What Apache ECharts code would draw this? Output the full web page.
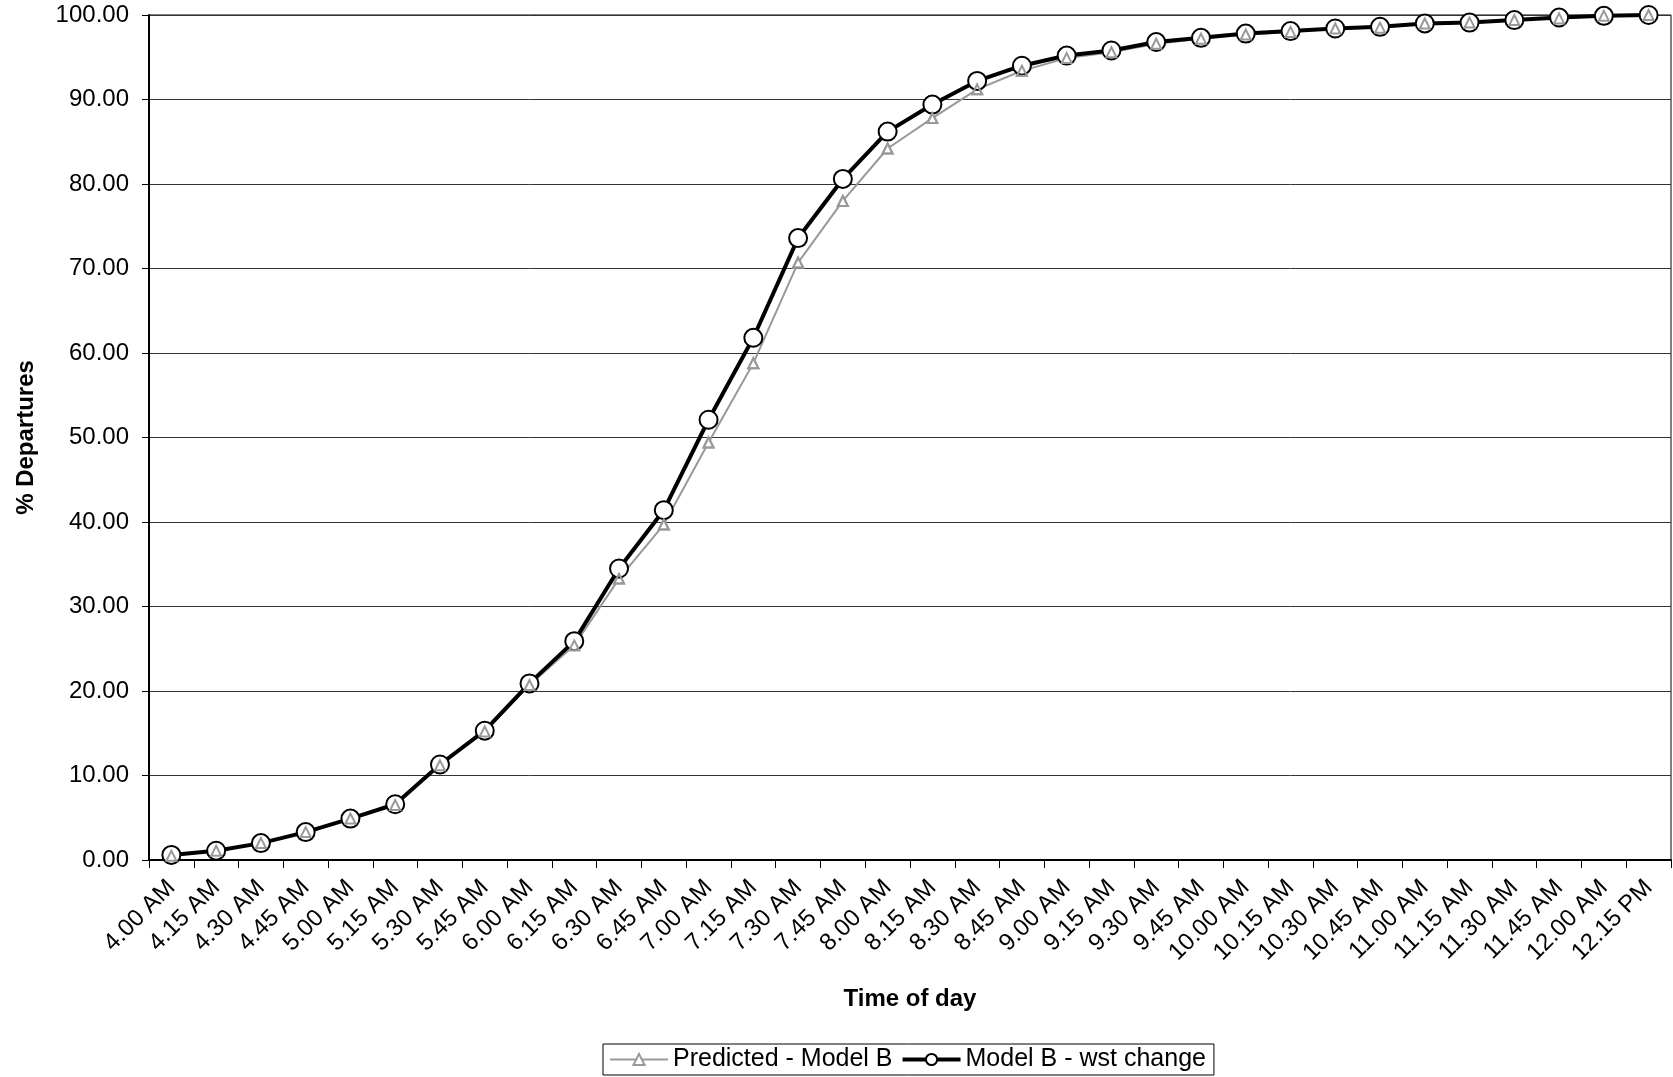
<!DOCTYPE html>
<html>
<head>
<meta charset="utf-8">
<script src="https://cdn.jsdelivr.net/npm/echarts@6/dist/echarts.min.js"></script>
<style>
html,body{margin:0;padding:0;background:#fff;}
#chart{width:1673px;height:1077px;}
</style>
</head>
<body>
<div id="chart"></div>
<script>
const categories = ["4.00 AM","4.15 AM","4.30 AM","4.45 AM","5.00 AM","5.15 AM","5.30 AM","5.45 AM",
  "6.00 AM","6.15 AM","6.30 AM","6.45 AM","7.00 AM","7.15 AM","7.30 AM","7.45 AM",
  "8.00 AM","8.15 AM","8.30 AM","8.45 AM","9.00 AM","9.15 AM","9.30 AM","9.45 AM",
  "10.00 AM","10.15 AM","10.30 AM","10.45 AM","11.00 AM","11.15 AM","11.30 AM","11.45 AM",
  "12.00 AM","12.15 PM"];
const predictedModelB = [0.5,1.1,2.0,3.3,4.9,6.5,11.2,15.2,20.7,25.4,33.3,39.7,49.4,58.8,70.7,78.0,
  84.2,87.8,91.2,93.4,94.9,95.6,96.6,97.2,97.7,98.0,98.4,98.5,99.0,99.1,99.4,99.6,99.9,100.0];
const modelBWstChange = [0.6,1.1,2.0,3.3,4.9,6.6,11.3,15.3,20.9,25.9,34.5,41.4,52.1,61.8,73.6,80.6,
  86.2,89.4,92.2,94.0,95.2,95.8,96.8,97.3,97.8,98.1,98.4,98.6,99.0,99.1,99.4,99.7,99.9,100.0];
const seriesNames = ["Predicted - Model B","Model B - wst change"];

const FONT = "'Liberation Sans', Arial, sans-serif";
const chart = echarts.init(document.getElementById('chart'));
chart.setOption({
  animation:false,
  backgroundColor:'#fff',
  grid:{left:149,right:2,top:15,bottom:217,show:true,borderColor:'#000',borderWidth:1},
  legend:{
    data:[
      {name:seriesNames[0],lineStyle:{width:2,color:'#999'}},
      {name:seriesNames[1],lineStyle:{width:4,color:'#000'}}
    ],
    bottom:2,left:603,
    orient:'horizontal',
    borderColor:'#000',borderWidth:1,
    padding:[3,8,3,6],
    itemGap:8,itemWidth:58,itemHeight:14,
    textStyle:{fontFamily:FONT,fontSize:25,color:'#000'}
  },
  xAxis:{
    type:'category',
    data:categories,
    boundaryGap:true,
    name:'Time of day',
    nameLocation:'middle',
    nameGap:127,
    nameTextStyle:{fontFamily:FONT,fontSize:24,fontWeight:'bold',color:'#000'},
    axisLine:{lineStyle:{color:'#000',width:2}},
    axisTick:{show:true,length:8,lineStyle:{color:'#000',width:1},alignWithLabel:false},
    axisLabel:{interval:0,rotate:45,margin:24,fontFamily:FONT,fontSize:24,color:'#000'},
    splitLine:{show:false}
  },
  yAxis:{
    type:'value',
    min:0,max:100,interval:10,
    name:'% Departures',
    nameLocation:'middle',
    nameGap:111,
    nameTextStyle:{fontFamily:FONT,fontSize:24,fontWeight:'bold',color:'#000'},
    axisLine:{show:true,lineStyle:{color:'#000',width:2}},
    axisTick:{show:true,length:7,lineStyle:{color:'#000'}},
    axisLabel:{margin:20,fontFamily:FONT,fontSize:24,color:'#000',formatter:v=>v.toFixed(2)},
    splitLine:{show:true,lineStyle:{color:'#333',width:1}}
  },
  series:[
    {
      name:seriesNames[0],type:'line',data:predictedModelB,z:2,
      symbol:'triangle',symbolSize:10,showAllSymbol:true,
      lineStyle:{color:'#999',width:2},
      itemStyle:{color:'#fff',borderColor:'#999',borderWidth:2}
    },
    {
      name:seriesNames[1],type:'line',data:modelBWstChange,z:3,
      symbol:'circle',symbolSize:18,showAllSymbol:true,
      lineStyle:{color:'#000',width:4},
      itemStyle:{color:'#fff',borderColor:'#000',borderWidth:2}
    },
    {
      name:seriesNames[0],type:'line',data:predictedModelB,z:4,
      symbol:'triangle',symbolSize:10,showAllSymbol:true,
      lineStyle:{width:0,opacity:0},
      itemStyle:{color:'rgba(0,0,0,0)',borderColor:'#999',borderWidth:2},
      tooltip:{show:false}
    }
  ]
});
</script>
</body>
</html>
